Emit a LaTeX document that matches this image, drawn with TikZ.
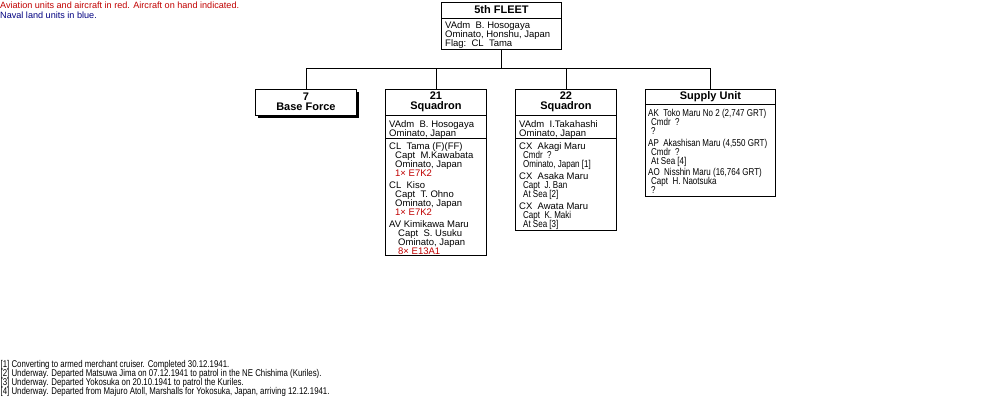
\documentclass[tikz,border=0pt]{standalone}
\usepackage{fontspec}
\setmainfont{Liberation Sans}
\newfontfamily\nar[FakeStretch=0.8]{Liberation Sans}
\usetikzlibrary{shadows}
\definecolor{avred}{HTML}{C00000}
\definecolor{navblue}{HTML}{000080}
\lineskiplimit=-20pt
\lineskip=0pt
\tikzset{
  box/.style={draw, line width=0.9pt, fill=white, inner sep=0, anchor=north west},
  hdr/.style={font=\fontsize{11}{10}\selectfont\bfseries, align=center, inner sep=0},
  body/.style={font=\fontsize{9.5}{9}\selectfont, align=left, anchor=north west, inner sep=0},
  nbody/.style={font=\fontsize{10}{9}\selectfont\nar, align=left, anchor=north west, inner sep=0},
  fnote/.style={font=\fontsize{9.8}{9.2}\selectfont\nar, align=left, anchor=north west, inner sep=0},
  conn/.style={line width=0.9pt},
  divl/.style={line width=0.9pt},
}
\newcommand\nl[1]{{\fontsize{10}{9}\selectfont\nar\hspace*{4pt}#1}}
\begin{document}
\begin{tikzpicture}[x=1pt,y=-1pt]
\useasboundingbox (0,0) rectangle (1000,400);

% legend
\node[anchor=north west, inner sep=0, font=\fontsize{9.1}{10}\selectfont, text=avred] (leg1) at (0,1.5) {Aviation units and aircraft in red. Aircraft on hand indicated.};
\node[anchor=north west, inner sep=0, font=\fontsize{9.1}{10}\selectfont, text=navblue] (leg2) at (0,11.5) {Naval land units in blue.};

% boxes
\node[box, minimum width=120pt, minimum height=47pt] (fleet) at (441,2) {};
\node[box, minimum width=101pt, minimum height=26pt,
      drop shadow={shadow xshift=3pt, shadow yshift=-3pt, opacity=1, fill=black}] (base7) at (255,89) {};
\node[box, minimum width=101pt, minimum height=166pt] (sq21) at (385,89) {};
\node[box, minimum width=101pt, minimum height=141pt] (sq22) at (515,89) {};
\node[box, minimum width=130pt, minimum height=107pt] (supply) at (645,89) {};

% dividers
\draw[divl] (fleet.west |- 0,18) -- (fleet.east |- 0,18);
\draw[divl] (sq21.west |- 0,115) -- (sq21.east |- 0,115);
\draw[divl] (sq21.west |- 0,138) -- (sq21.east |- 0,138);
\draw[divl] (sq22.west |- 0,115) -- (sq22.east |- 0,115);
\draw[divl] (sq22.west |- 0,138) -- (sq22.east |- 0,138);
\draw[divl] (supply.west |- 0,104) -- (supply.east |- 0,104);

% connectors
\coordinate (bus) at (0,68);
\draw[conn] (fleet.south) -- (fleet.south |- bus);
\draw[conn] (base7.north) -- (base7.north |- bus) -| (supply.north);
\draw[conn] (sq21.north) -- (sq21.north |- bus);
\draw[conn] (sq22.north) -- (sq22.north |- bus);

% headers
\node[hdr] (hfleet) at (fleet.north |- 0,10) {5th FLEET};
\node[hdr] (hbase7) at (base7.north |- 0,101.5) {7\\Base Force};
\node[hdr] (hsq21) at (sq21.north |- 0,102) {21\\Squadron};
\node[hdr] (hsq22) at (sq22.north |- 0,102) {22\\Squadron};
\node[hdr] (hsupply) at (supply.north |- 0,97) {Supply Unit};

% fleet body
\node[body] (bfleet) at (445,21.5) {VAdm\ \ B. Hosogaya\\Ominato, Honshu, Japan\\Flag:\ \ CL\ \ Tama};

% 21 squadron
\node[body] (b21a) at (389,120) {VAdm\ \ B. Hosogaya\\Ominato, Japan};
\node[body] (b21b) at (389,142) {CL\ \ Tama (F)(FF)\\
\hspace*{6pt}Capt\ \ M.Kawabata\\
\hspace*{6pt}Ominato, Japan\\
\hspace*{6pt}\textcolor{avred}{1× E7K2}\\[3pt]
CL\ \ Kiso\\
\hspace*{6pt}Capt\ \ T. Ohno\\
\hspace*{6pt}Ominato, Japan\\
\hspace*{6pt}\textcolor{avred}{1× E7K2}\\[3pt]
AV Kimikawa Maru\\
\hspace*{9pt}Capt\ \ S. Usuku\\
\hspace*{9pt}Ominato, Japan\\
\hspace*{9pt}\textcolor{avred}{8× E13A1}};

% 22 squadron
\node[body] (b22a) at (519,120) {VAdm\ \ I.Takahashi\\Ominato, Japan};
\node[body] (b22b) at (519,142) {CX\ \ Akagi Maru\\
\nl{Cmdr\ \ ?}\\
\nl{Ominato, Japan [1]}\\[3pt]
CX\ \ Asaka Maru\\
\nl{Capt\ \ J. Ban}\\
\nl{At Sea [2]}\\[3pt]
CX\ \ Awata Maru\\
\nl{Capt\ \ K. Maki}\\
\nl{At Sea [3]}};

% supply unit
\node[nbody] (bsup) at (648,109) {AK\ \ Toko Maru No 2 (2,747 GRT)\\
\hspace*{3pt}Cmdr\ \ ?\\
\hspace*{3pt}?\\[3pt]
AP\ \ Akashisan Maru (4,550 GRT)\\
\hspace*{3pt}Cmdr\ \ ?\\
\hspace*{3pt}At Sea [4]\\[2pt]
AO\ \ Nisshin Maru (16,764 GRT)\\
\hspace*{3pt}Capt\ \ H. Naotsuka\\
\hspace*{3pt}?};

% footnotes
\node[fnote] (notes) at (0.5,360) {{[1]} Converting to armed merchant cruiser. Completed 30.12.1941.\\{[2]} Underway. Departed Matsuwa Jima on 07.12.1941 to patrol in the NE Chishima (Kuriles).\\{[3]} Underway. Departed Yokosuka on 20.10.1941 to patrol the Kuriles.\\{[4]} Underway. Departed from Majuro Atoll, Marshalls for Yokosuka, Japan, arriving 12.12.1941.};
\end{tikzpicture}
\end{document}
